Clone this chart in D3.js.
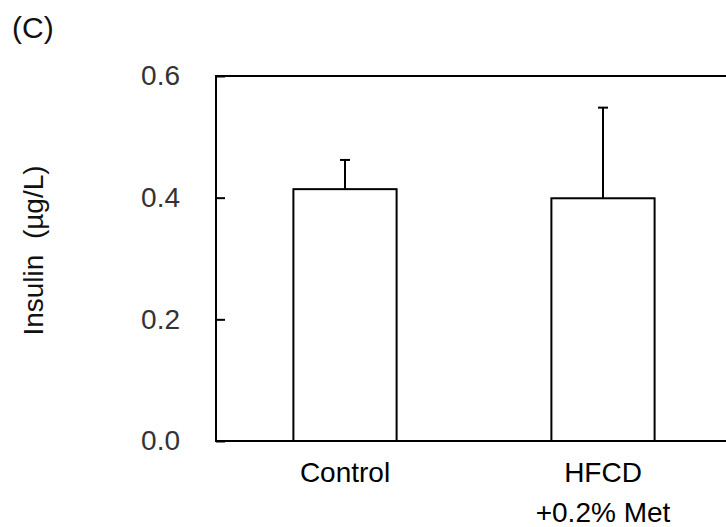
<!DOCTYPE html>
<html>
<head>
<meta charset="utf-8">
<script src="https://cdn.jsdelivr.net/npm/d3@7"></script>
<style>
  body { margin: 0; background: #fff; }
  text { font-family: "Liberation Sans", Arial, sans-serif; }
</style>
</head>
<body>
<div id="chart"></div>
<script>
// data
var groups = ["Control", "HFCD"];
var groupLabels = [["Control"], ["HFCD", "+0.2% Met"]];
var means = [0.414, 0.399];
var errors = [0.048, 0.149];
var yTicks = [0, 0.2, 0.4, 0.6];

var svgWidth = 726;
var svgHeight = 527;

var plot = { left: 216, right: 732, top: 76, bottom: 441 };

var svg = d3.select("#chart")
  .append("svg")
  .attr("width", svgWidth)
  .attr("height", svgHeight);

var xScale = d3.scaleBand()
  .domain(groups)
  .range([plot.left, plot.right])
  .padding(0);

var yScale = d3.scaleLinear()
  .domain([0, 0.6])
  .range([plot.bottom, plot.top]);

var barWidth = xScale.bandwidth() * 0.4;
var capWidth = 10;

// panel letter
svg.append("text")
  .attr("x", 12)
  .attr("y", 38)
  .attr("font-size", 30)
  .attr("fill", "#111")
  .text("(C)");

// y axis, ticks pointing inward
var leftAxis = d3.axisLeft(yScale)
  .tickValues(yTicks)
  .tickFormat(d3.format(".1f"))
  .tickSizeInner(-9)
  .tickSizeOuter(0)
  .tickPadding(36);

var yAxis = svg.append("g")
  .attr("transform", `translate(${plot.left},0)`)
  .call(leftAxis);
yAxis.select(".domain").remove();
yAxis.selectAll(".tick line").attr("stroke", "#000").attr("stroke-width", 2);
yAxis.selectAll(".tick text")
  .attr("font-size", 28)
  .attr("fill", "#333")
  .attr("font-family", "'Liberation Sans', Arial, sans-serif");

// bars
svg.selectAll("rect.bar")
  .data(groups)
  .enter()
  .append("rect")
  .attr("class", "bar")
  .attr("x", d => xScale(d) + (xScale.bandwidth() - barWidth) / 2)
  .attr("y", (d, i) => yScale(means[i]))
  .attr("width", barWidth)
  .attr("height", (d, i) => yScale(0) - yScale(means[i]))
  .attr("fill", "#fff")
  .attr("stroke", "#000")
  .attr("stroke-width", 2);

// error bars (upper only)
var errG = svg.selectAll("g.err")
  .data(groups)
  .enter()
  .append("g")
  .attr("class", "err");

errG.append("line")
  .attr("x1", d => xScale(d) + xScale.bandwidth() / 2)
  .attr("x2", d => xScale(d) + xScale.bandwidth() / 2)
  .attr("y1", (d, i) => yScale(means[i]))
  .attr("y2", (d, i) => yScale(means[i] + errors[i]))
  .attr("stroke", "#000")
  .attr("stroke-width", 2);

errG.append("line")
  .attr("x1", d => xScale(d) + xScale.bandwidth() / 2 - capWidth / 2)
  .attr("x2", d => xScale(d) + xScale.bandwidth() / 2 + capWidth / 2)
  .attr("y1", (d, i) => yScale(means[i] + errors[i]))
  .attr("y2", (d, i) => yScale(means[i] + errors[i]))
  .attr("stroke", "#000")
  .attr("stroke-width", 2);

// frame
svg.append("rect")
  .attr("x", plot.left)
  .attr("y", plot.top)
  .attr("width", plot.right - plot.left)
  .attr("height", plot.bottom - plot.top)
  .attr("fill", "none")
  .attr("stroke", "#000")
  .attr("stroke-width", 2);

// category labels
var bottomAxis = d3.axisBottom(xScale).tickSize(0).tickPadding(0);
var xAxis = svg.append("g")
  .attr("transform", `translate(0,${plot.bottom})`)
  .call(bottomAxis);
xAxis.select(".domain").remove();
xAxis.selectAll(".tick text").each(function(d, i) {
  var t = d3.select(this)
    .text(null)
    .attr("y", 0)
    .attr("dy", null)
    .attr("font-size", 28)
    .attr("fill", "#000")
    .attr("font-family", "'Liberation Sans', Arial, sans-serif");
  groupLabels[i].forEach(function(line, k) {
    t.append("tspan")
      .attr("x", 0)
      .attr("y", 41 + k * 40)
      .text(line);
  });
});

// y axis title
svg.append("text")
  .attr("transform", `translate(43,${(plot.top + plot.bottom) / 2 - 8}) rotate(-90)`)
  .attr("text-anchor", "middle")
  .attr("font-size", 28)
  .attr("fill", "#111")
  .attr("xml:space", "preserve")
  .style("white-space", "pre")
  .text("Insulin  (\u00b5g/L)");
</script>
</body>
</html>
